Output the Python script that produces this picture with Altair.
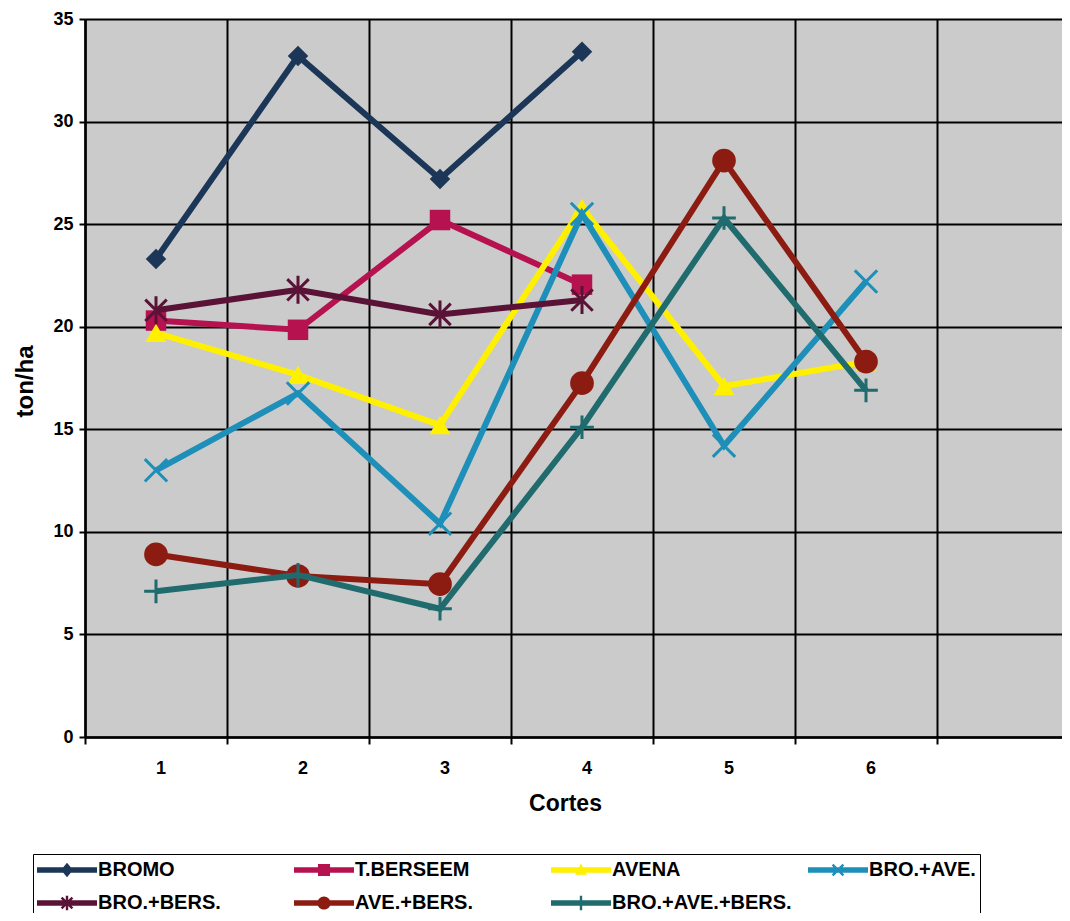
import altair as alt
import pandas as pd

# ---- data ----
cortes = ["1", "2", "3", "4", "5", "6", "7"]
series = ["BROMO", "T.BERSEEM", "AVENA", "BRO.+AVE.", "BRO.+BERS.", "AVE.+BERS.", "BRO.+AVE.+BERS."]
bromo = [23.3, 33.2, 27.2, 33.4]
t_berseem = [20.3, 19.85, 25.2, 22.05]
avena = [19.7, 17.65, 15.2, 25.8, 17.1, 18.3]
bro_ave = [13.0, 16.75, 10.4, 25.5, 14.2, 22.2]
bro_bers = [20.8, 21.8, 20.6, 21.3]
ave_bers = [8.9, 7.85, 7.45, 17.25, 28.1, 18.3]
bro_ave_bers = [7.1, 7.9, 6.25, 15.1, 25.3, 16.9]
values = [bromo, t_berseem, avena, bro_ave, bro_bers, ave_bers, bro_ave_bers]
y_ticks = [0, 5, 10, 15, 20, 25, 30, 35]

colors = ["#1b3656", "#b5124f", "#fff000", "#1d8fb8", "#5a1236", "#8c1c12", "#1f6b6e"]

rows = []
for name, vals in zip(series, values):
    for i, v in enumerate(vals):
        rows.append({"corte": cortes[i], "serie": name, "ton": v})
df = pd.DataFrame(rows)

# ---- marker shapes ----
X_PATH = "M-1,-1L1,1M-1,1L1,-1"
STAR_PATH = "M-1,-1L1,1M-1,1L1,-1M0,-1.3L0,1.3"
PLUS_PATH = "M-1,0L1,0M0,-1L0,1"
marker_shape = ["diamond", "square", "triangle-up", X_PATH, STAR_PATH, "circle", PLUS_PATH]
marker_filled = [True, True, True, False, False, True, False]
marker_size = [420, 420, 440, 500, 460, 560, 560]


def poly(pts):
    s = 0.0
    for i in range(len(pts)):
        x1, y1 = pts[i]
        x2, y2 = pts[(i + 1) % len(pts)]
        s += x1 * y2 - x2 * y1
    if s < 0:
        pts = pts[::-1]
    return "M" + "L".join(f"{x:.3f},{y:.3f}" for x, y in pts) + "Z"


def seg(x1, y1, x2, y2, h):
    dx, dy = x2 - x1, y2 - y1
    ln = (dx * dx + dy * dy) ** 0.5
    nx, ny = -dy / ln * h, dx / ln * h
    return poly([(x1 + nx, y1 + ny), (x2 + nx, y2 + ny), (x2 - nx, y2 - ny), (x1 - nx, y1 - ny)])


cx = 1.5
line_part = seg(-1, 0, 4, 0, 0.22)
r = 0.5
leg_markers = [
    poly([(cx, -0.6), (cx + 0.5, 0), (cx, 0.6), (cx - 0.5, 0)]),
    poly([(cx - r, -r), (cx + r, -r), (cx + r, r), (cx - r, r)]),
    poly([(cx, -0.55), (cx + 0.5, 0.4), (cx - 0.5, 0.4)]),
    seg(cx - 0.45, -0.45, cx + 0.45, 0.45, 0.1) + seg(cx - 0.45, 0.45, cx + 0.45, -0.45, 0.1),
    seg(cx - 0.45, -0.45, cx + 0.45, 0.45, 0.1) + seg(cx - 0.45, 0.45, cx + 0.45, -0.45, 0.1)
    + seg(cx, -0.6, cx, 0.6, 0.1),
    f"M{cx - 0.55},0A0.55,0.55 0 1,1 {cx + 0.55},0A0.55,0.55 0 1,1 {cx - 0.55},0Z",
    seg(cx, -0.6, cx, 0.6, 0.1),
]
legend_paths = [line_part + m for m in leg_markers]

# the legend fills column by column (2 rows): reorder so it reads row by row
n_cols = 4
n_rows = (len(series) + n_cols - 1) // n_cols
leg_order = []
for c in range(n_cols):
    for rr in range(n_rows):
        k = rr * n_cols + c
        if k < len(series):
            leg_order.append(k)
leg_domain = [series[k] for k in leg_order]
leg_colors = [colors[k] for k in leg_order]
leg_paths = [legend_paths[k] for k in leg_order]

FONT = "Liberation Sans"

x_scale = alt.Scale(type="band", domain=cortes, range=[0, 994], paddingInner=0, paddingOuter=0)
y_scale = alt.Scale(domain=[0, 35], nice=False, zero=True)

x_axis = alt.Axis(
    bandPosition=0, labelOffset=5, labelAngle=0, labelOverlap=False,
    labelExpr="datum.value == '7' ? '' : datum.label",
    grid=True, gridColor="black", gridWidth=2, gridOpacity=1,
    domainColor="black", domainWidth=2.5, tickColor="black", tickWidth=2, tickSize=7,
    labelFont=FONT, labelFontWeight="bold", labelFontSize=18, labelColor="black",
    labelBaseline="middle", labelPadding=24,
    titleFont=FONT, titleFontWeight="bold", titleFontSize=23, titleColor="black",
    titleX=480, titleY=66, titleAlign="center", titleBaseline="middle",
)
y_axis = alt.Axis(
    values=y_ticks, grid=True, gridColor="black", gridWidth=2, gridOpacity=1,
    domainColor="black", domainWidth=2.5, tickColor="black", tickWidth=2, tickSize=6,
    labelFont=FONT, labelFontWeight="bold", labelFontSize=18, labelColor="black", labelPadding=6,
    titleFont=FONT, titleFontWeight="bold", titleFontSize=24, titleColor="black",
    titleX=-60, titleY=362, titleAngle=270, titleAlign="center", titleBaseline="middle",
)

X = alt.X("corte:O", scale=x_scale, axis=x_axis, title="Cortes", bandPosition=0.5)
Y = alt.Y("ton:Q", scale=y_scale, axis=y_axis, title="ton/ha")

layers = []
for i, name in enumerate(series):
    base = alt.Chart(df).transform_filter(alt.datum.serie == name)
    layers.append(base.mark_line(color=colors[i], strokeWidth=6).encode(x=X, y=Y))
    if marker_filled[i]:
        pt = base.mark_point(shape=marker_shape[i], filled=True, color=colors[i],
                             size=marker_size[i], opacity=1)
    else:
        pt = base.mark_point(shape=marker_shape[i], filled=False, color=colors[i],
                             size=marker_size[i], strokeWidth=3, opacity=1)
    layers.append(pt.encode(x=X, y=Y))

legend = alt.Legend(
    title=None, orient="none", legendX=-52, legendY=835, columns=n_cols, gridAlign="all",
    columnPadding=16, rowPadding=11, padding=4,
    symbolSize=576, symbolStrokeWidth=0, symbolOpacity=1,
    labelFont=FONT, labelFontSize=20, labelFontWeight="bold", labelColor="black",
    labelOffset=37, labelLimit=400,
    strokeColor="black", fillColor="white",
)
legend_layer = alt.Chart(df).mark_point(filled=True, opacity=0, size=576).encode(
    x=X, y=Y,
    color=alt.Color("serie:N", scale=alt.Scale(domain=leg_domain, range=leg_colors), legend=legend),
    shape=alt.Shape("serie:N", scale=alt.Scale(domain=leg_domain, range=leg_paths), legend=legend),
)
layers.append(legend_layer)

chart = alt.layer(*layers).properties(
    width=977, height=718,
    autosize=alt.AutoSizeParams(type="none"),
    padding={"left": 77, "top": 11, "right": 0, "bottom": 176},
    background="white",
).configure_view(fill="#cbcbcb", stroke=None)

chart.save("out.html", embed_options={"renderer": "svg", "actions": False})
